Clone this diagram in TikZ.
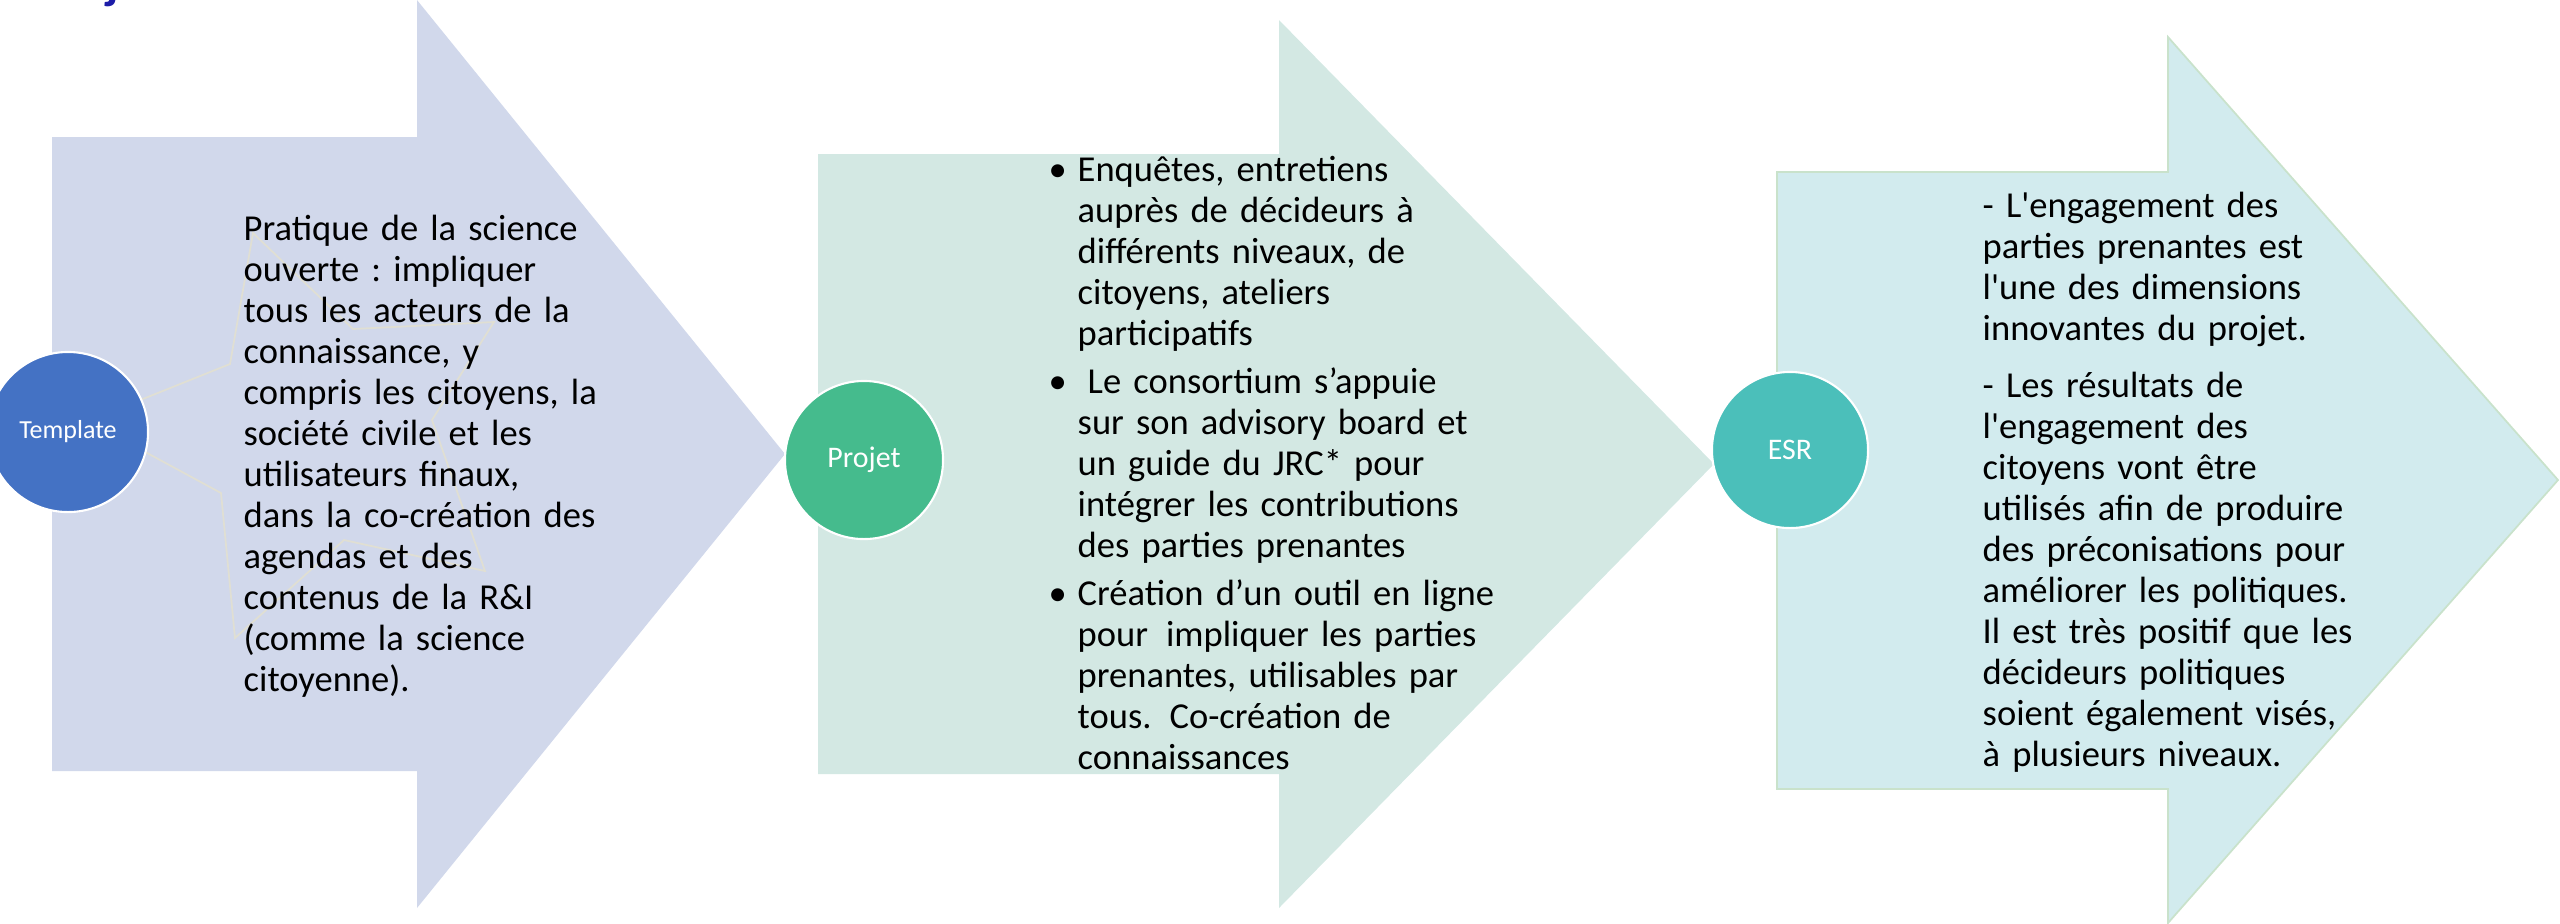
\documentclass[tikz,border=0pt]{standalone}
\usepackage{fontspec}
\setmainfont{Carlito}[Ligatures=TeXOff]
\definecolor{arrowA}{HTML}{D1D8EB}
\definecolor{arrowB}{HTML}{D3E8E3}
\definecolor{arrowC}{HTML}{D2EBEE}
\definecolor{arrowCline}{HTML}{C9E2CB}
\definecolor{starline}{HTML}{E0DFD3}
\definecolor{circA}{HTML}{4472C4}
\definecolor{circB}{HTML}{45BB8D}
\definecolor{circC}{HTML}{4BBFBA}
\definecolor{jblue}{HTML}{1C1CA8}
\begin{document}
\begin{tikzpicture}[x=0.01cm, y=-0.01cm,
  bodytext/.style={inner sep=0pt, anchor=north west, text width=4.6cm, align=left,
    font=\fontsize{10.39pt}{11.67pt}\selectfont\frenchspacing, text=black},
  stagecirc/.style={circle, draw=white, line width=0.6pt, minimum size=1.58cm,
    inner sep=0pt, text=white, font=\fontsize{8.5pt}{10pt}\selectfont},
]
\useasboundingbox (0,0) rectangle (2560,923);

% arrows
\fill[arrowA] (52,137) -- (417,137) -- (417,0) -- (785,454) -- (417,908)
  -- (417,771) -- (52,771) -- cycle;
\fill[arrowB] (818,154) -- (1279,154) -- (1279,20) -- (1714,464) -- (1279,908)
  -- (1279,774) -- (818,774) -- cycle;
\filldraw[fill=arrowC, draw=arrowCline, line width=0.5pt] (1777,172) -- (2168,172)
  -- (2168,37) -- (2558,480) -- (2168,923) -- (2168,789) -- (1777,789) -- cycle;

% faint star in the first arrow
\draw[starline, line width=0.5pt, line join=miter]
  (88,421) -- (230,364) -- (253,233) -- (353,329) -- (494,322) -- (432,420)
  -- (485,571) -- (344,540) -- (235,638) -- (221,493) -- cycle;

% cut-off title glyph
\node[text=jblue, font=\bfseries\fontsize{14pt}{16pt}\selectfont, anchor=base west,
  inner sep=0pt] (titleglyph) at (106,-2) {j};

% circles
\node[stagecirc, fill=circA, minimum size=1.6cm, font=\fontsize{7.4pt}{9pt}\selectfont]
  (template) at (68,432) {Template};
\node[stagecirc, fill=circB] (projet) at (864,460) {Projet};
\node[stagecirc, fill=circC, minimum size=1.56cm] (esr) at (1790,450) {ESR};

% texts
\node[bodytext] (ttext) at (243,211) {\strut Pratique de la science\\
ouverte : impliquer\\
tous les acteurs de la\\
connaissance, y\\
compris les citoyens, la\\
société civile et les\\
utilisateurs finaux,\\
dans la co-création des\\
agendas et des\\
contenus de la R\&I\\
(comme la science\\
citoyenne).};

\node[bodytext] (pone) at (1077,152) {\strut\llap{•\hspace{0.11cm}}Enquêtes, entretiens\\
auprès de décideurs à\\
différents niveaux, de\\
citoyens, ateliers\\
participatifs};
\node[bodytext] (ptwo) at (1077,364) {\strut\llap{•\hspace{0.11cm}}\hspace*{0.1cm}Le consortium s’appuie\\
sur son advisory board et\\
un guide du JRC* pour\\
intégrer les contributions\\
des parties prenantes};
\node[bodytext] (pthree) at (1077,576) {\strut\llap{•\hspace{0.11cm}}Création d’un outil en ligne\\
pour\hspace*{0.18cm}impliquer les parties\\
prenantes, utilisables par\\
tous.\hspace*{0.18cm}Co-création de\\
connaissances};

\node[bodytext] (eone) at (1982,188) {\strut - L'engagement des\\
parties prenantes est\\
l'une des dimensions\\
innovantes du projet.};
\node[bodytext] (etwo) at (1982,368) {\strut - Les résultats de\\
l'engagement des\\
citoyens vont être\\
utilisés afin de produire\\
des préconisations pour\\
améliorer les politiques.\\
Il est très positif que les\\
décideurs politiques\\
soient également visés,\\
à plusieurs niveaux.};
\end{tikzpicture}
\end{document}
